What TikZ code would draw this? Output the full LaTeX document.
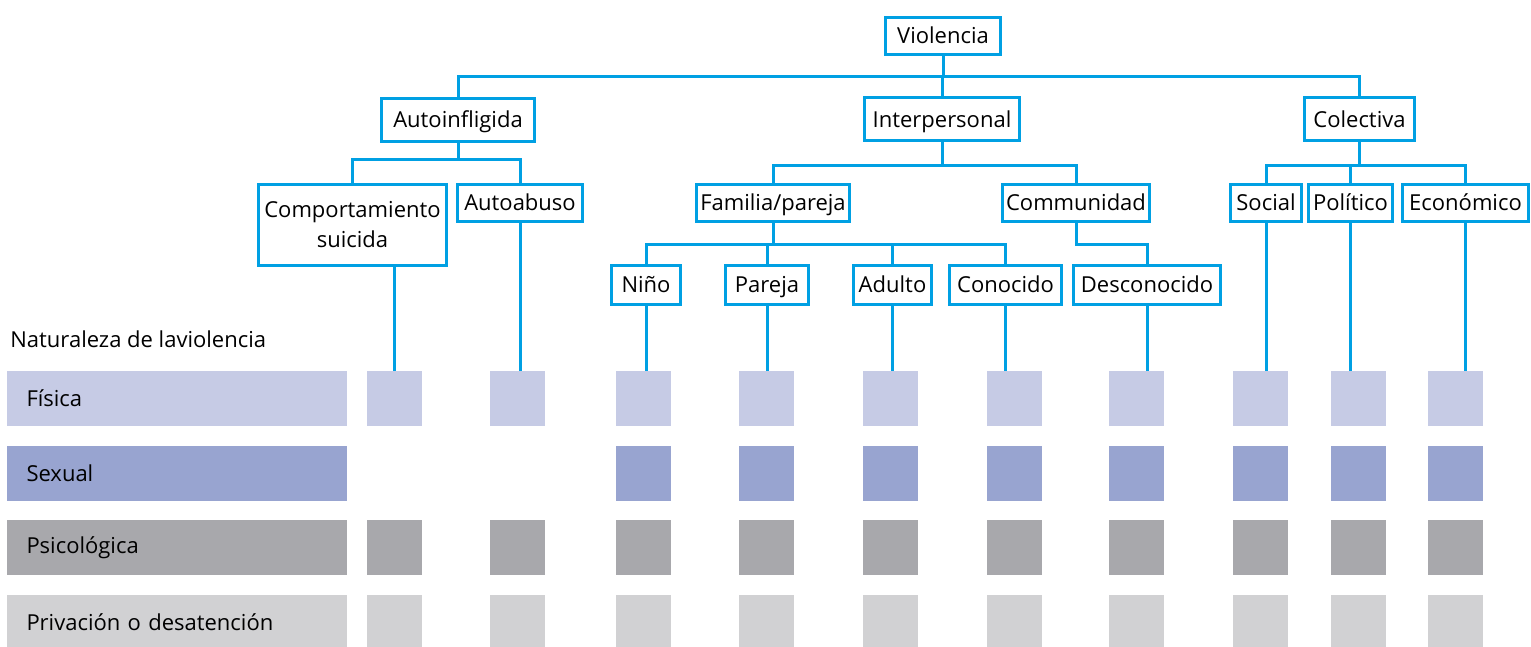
\documentclass[tikz,border=0pt]{standalone}
\usepackage{fontspec}
\setmainfont{Open Sans}
\definecolor{linkblue}{RGB}{0,160,227}
\definecolor{fisica}{RGB}{198,203,229}
\definecolor{sexual}{RGB}{152,164,208}
\definecolor{psico}{RGB}{168,168,172}
\definecolor{priva}{RGB}{209,209,211}
\tikzstyle{box}=[draw=linkblue, line width=1.5pt, inner sep=0pt, minimum height=18.5pt, fill=white, font=\fontsize{11}{15}\selectfont]
\tikzstyle{onebox}=[box, text height=9pt, text depth=1.5pt]
\tikzstyle{link}=[draw=linkblue, line width=1.5pt]
\tikzstyle{sq}=[inner sep=0pt, minimum size=27.5pt]
\tikzstyle{bar}=[inner xsep=10pt, inner ysep=0pt, minimum height=27.5pt, text width=150pt, align=left, font=\fontsize{11}{15}\selectfont]

\begin{document}
\begin{tikzpicture}[x=0.5pt, y=-0.5pt]
      \useasboundingbox (0,0) rectangle (1531,647);

      % tree
      \node[onebox, minimum width=57.5pt] (v) at (943,36.5) {Violencia};
      \node[onebox, minimum width=76.5pt, minimum height=21.5pt] (a1) at (458,120) {Autoinfligida};
      \node[onebox, minimum width=77.5pt, minimum height=21.5pt] (a2) at (942,119.5) {Interpersonal};
      \node[onebox, minimum width=55pt, minimum height=21.5pt] (a3) at (1359.5,119.5) {Colectiva};
      \node[box, minimum width=94pt, minimum height=40.5pt, align=center] (b1) at (352.5,225) {Comportamiento\\suicida};
      \node[onebox, minimum width=62.5pt] (b2) at (520,203) {Autoabuso};
      \node[onebox, minimum width=76.5pt] (b3) at (773,203) {Familia/pareja};
      \node[onebox, minimum width=73.5pt] (b4) at (1076,203) {Communidad};
      \node[onebox, minimum width=35.5pt] (b5) at (1266,203) {Social};
      \node[onebox, minimum width=42pt] (b6) at (1350.5,203) {Político};
      \node[onebox, minimum width=63pt] (b7) at (1465.5,203) {Económico};
      \node[onebox, minimum width=34.5pt, minimum height=19.5pt] (c1) at (646,285) {Niño};
      \node[onebox, minimum width=41.5pt, minimum height=19.5pt] (c2) at (767,285) {Pareja};
      \node[onebox, minimum width=39pt, minimum height=19.5pt] (c3) at (892.5,285) {Adulto};
      \node[onebox, minimum width=56pt, minimum height=19.5pt] (c4) at (1005.5,285) {Conocido};
      \node[onebox, minimum width=73.5pt, minimum height=19.5pt] (c5) at (1147,285) {Desconocido};

      \coordinate (h0) at (0,77);
      \coordinate (h1) at (0,159);
      \coordinate (h2) at (0,165);
      \coordinate (h3) at (0,244);

      \draw[link] (v.south) -- (v.south |- h0) -| (a1.north);
      \draw[link] (v.south |- h0) -| (a2.north);
      \draw[link] (v.south |- h0) -| (a3.north);
      \draw[link] (a1.south) -- (a1.south |- h1) -| (b1.north);
      \draw[link] (a1.south |- h1) -| (b2.north);
      \draw[link] (a2.south) -- (a2.south |- h2) -| (b3.north);
      \draw[link] (a2.south |- h2) -| (b4.north);
      \draw[link] (a3.south) -- (a3.south |- h2) -| (b5.north);
      \draw[link] (a3.south |- h2) -| (b6.north);
      \draw[link] (a3.south |- h2) -| (b7.north);
      \draw[link] (b3.south) -- (b3.south |- h3) -| (c1.north);
      \draw[link] (b3.south |- h3) -| (c2.north);
      \draw[link] (b3.south |- h3) -| (c3.north);
      \draw[link] (b3.south |- h3) -| (c4.north);
      \draw[link] (b4.south) -- (b4.south |- h3) -| (c5.north);

      % nature of violence
      \node[anchor=west, inner sep=0pt, font=\fontsize{11}{15}\selectfont] (t) at (10,339) {Naturaleza de laviolencia};
      \node[bar, fill=fisica] (l1) at (176.5,398.5) {Física};
      \node[bar, fill=sexual] (l2) at (176.5,473.5) {Sexual};
      \node[bar, fill=psico] (l3) at (176.5,547.5) {Psicológica};
      \node[bar, fill=priva] (l4) at (176.5,622.5) {Privación o desatención};

      \foreach \n/\x in {1/394.5, 2/517.5, 3/643.5, 4/766.5, 5/890.5, 6/1014.5, 7/1136.5, 8/1260.5, 9/1358.5, 10/1455.5} {
        \node[sq, fill=fisica] (f\n) at (\x,398.5) {};
        \node[sq, fill=psico] (p\n) at (\x,547.5) {};
        \node[sq, fill=priva] (d\n) at (\x,622.5) {};
      }
      \foreach \n/\x in {3/643.5, 4/766.5, 5/890.5, 6/1014.5, 7/1136.5, 8/1260.5, 9/1358.5, 10/1455.5}
        \node[sq, fill=sexual] (s\n) at (\x,473.5) {};

      \draw[link] (f1.north |- b1.south) -- (f1.north);
      \draw[link] (b2.south) -- (b2.south |- f2.north);
      \draw[link] (c1.south) -- (c1.south |- f3.north);
      \draw[link] (c2.south) -- (c2.south |- f4.north);
      \draw[link] (c3.south) -- (c3.south |- f5.north);
      \draw[link] (c4.south) -- (c4.south |- f6.north);
      \draw[link] (c5.south) -- (c5.south |- f7.north);
      \draw[link] (b5.south) -- (b5.south |- f8.north);
      \draw[link] (b6.south) -- (b6.south |- f9.north);
      \draw[link] (b7.south) -- (b7.south |- f10.north);

    \end{tikzpicture}
\end{document}
